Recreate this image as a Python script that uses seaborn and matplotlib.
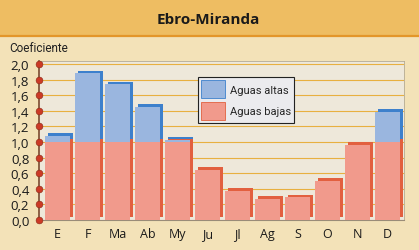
import numpy as np
import pandas as pd
import matplotlib
matplotlib.use("Agg")
import matplotlib.pyplot as plt
import matplotlib.patheffects as pe
from matplotlib.patches import Patch, Rectangle
from matplotlib.lines import Line2D
import seaborn as sns

months = ['E', 'F', 'Ma', 'Ab', 'My', 'Ju', 'Jl', 'Ag', 'S', 'O', 'N', 'D']
coef = [1.08, 1.88, 1.74, 1.45, 1.03, 0.64, 0.37, 0.27, 0.29, 0.50, 0.96, 1.39]
threshold = 1.0
yticks = [0.0, 0.2, 0.4, 0.6, 0.8, 1.0, 1.2, 1.4, 1.6, 1.8, 2.0]
ytick_labels = ['0,0', '0,2', '0,4', '0,6', '0,8', '1,0', '1,2', '1,4', '1,6', '1,8', '2,0']
legend_labels = ['Aguas altas', 'Aguas bajas']

df = pd.DataFrame({'mes': months, 'coef': coef})
df['bajas'] = np.minimum(df['coef'], threshold)
df['altas'] = np.maximum(df['coef'] - threshold, 0)

sns.set_theme(style="white")
plt.rcParams['font.family'] = ['Open Sans', 'DejaVu Sans']
NARROW = ['Roboto', 'Open Sans', 'DejaVu Sans']

BG = '#f3e2b8'
BAND = '#eebd62'
FACE = '#eee8da'
BLUE = '#9ab6df'
BLUE_SH = '#3d80cc'
RED = '#f19a8c'
RED_SH = '#e2603f'

fig = plt.figure(figsize=(4.19, 2.51), dpi=100, facecolor=BG)
fig.patches.append(Rectangle((0, 1 - 37/251), 1, 37/251, transform=fig.transFigure,
                             facecolor=BAND, edgecolor='none', zorder=0))
fig.lines.append(Line2D([0, 1], [1 - 37/251, 1 - 37/251], transform=fig.transFigure,
                        color='#e3962a', lw=1.6))
fig.text(0.497, 1 - 20/251, 'Ebro-Miranda', ha='center', va='center',
         fontsize=11, fontweight='bold', color='#1a1a1a')
fig.text(9/419, 1 - 48/251, 'Coeficiente', ha='left', va='center',
         fontsize=8.5, color='#222222', family=NARROW)

ax = fig.add_axes([39/419, 1 - 221/251, 365/419, 159/251])
ax.set_facecolor(FACE)

# Aguas bajas (lower part, up to the threshold)
sns.barplot(data=df, x='mes', y='bajas', color=RED, saturation=1, width=0.82,
            linewidth=0, edgecolor='none', ax=ax, zorder=3)
n_red = len(ax.patches)
for p in ax.patches:
    p.set_path_effects([pe.SimplePatchShadow(offset=(2, 2), shadow_rgbFace=RED_SH, alpha=1.0),
                        pe.Normal()])
    p.set_zorder(3)

# Aguas altas (part above the threshold), stacked on top
sns.barplot(data=df, x='mes', y='altas', color=BLUE, saturation=1, width=0.82,
            linewidth=0, edgecolor='none', ax=ax, zorder=4)
for p in ax.patches[n_red:]:
    if p.get_height() > 0:
        p.set_y(threshold)
        p.set_path_effects([pe.SimplePatchShadow(offset=(2, 2), shadow_rgbFace=BLUE_SH, alpha=1.0),
                            pe.Normal()])
    else:
        p.set_visible(False)
    p.set_zorder(4)

ax.set_xlim(-0.617, 11.55)
ax.set_ylim(0, 2.04)
ax.set_yticks(yticks)
ax.set_yticklabels(ytick_labels)
ax.set_xlabel('')
ax.set_ylabel('')
for y in yticks[1:]:
    ax.axhline(y, color='#e8b040', lw=0.8, zorder=1)

ax.tick_params(axis='both', length=0, labelsize=9.5, colors='#1a1a1a')
ax.tick_params(axis='x', labelsize=9)
ax.tick_params(axis='y', pad=7)
ax.tick_params(axis='x', pad=5)

for s in ['top', 'right']:
    ax.spines[s].set_color('#b4aa94')
    ax.spines[s].set_linewidth(0.6)
ax.spines['bottom'].set_color('#9a8c78')
ax.spines['bottom'].set_linewidth(0.8)
ax.spines['left'].set_color('#7a4a30')
ax.spines['left'].set_linewidth(1.2)

ax.scatter(np.zeros(len(yticks)), yticks, transform=ax.get_yaxis_transform(),
           s=24, color='#cc3a26', edgecolor='#8a2a18', linewidth=0.4,
           clip_on=False, zorder=10)

handles = [Patch(facecolor=BLUE, edgecolor=BLUE_SH, linewidth=0.6),
           Patch(facecolor=RED, edgecolor=RED_SH, linewidth=0.6)]
leg = ax.legend(handles, legend_labels, loc='upper left', bbox_to_anchor=(0.4356, 0.899),
                prop={'family': NARROW, 'size': 8}, frameon=True, fancybox=False,
                framealpha=1, handlelength=2.1, handleheight=2.1, borderpad=0.3,
                labelspacing=0.3, handletextpad=0.45, borderaxespad=0)
leg.get_frame().set_facecolor('#ebebee')
leg.get_frame().set_edgecolor('#222222')
leg.get_frame().set_linewidth(0.8)
leg.set_zorder(20)

fig.savefig('out.png', dpi=100, facecolor=BG)
